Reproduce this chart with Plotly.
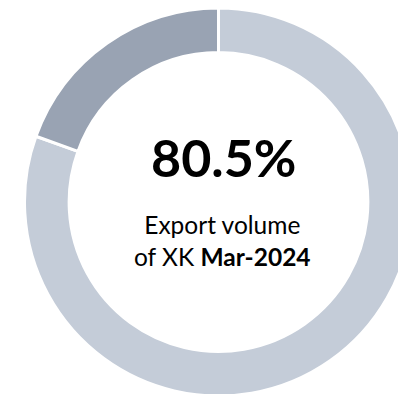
import plotly.graph_objects as go

labels = ["Export volume", "Other"]
values = [80.5, 19.5]
colors = ["#C4CCD8", "#99A3B3"]
headline = "80.5%"
subtitle_1 = "Export volume"
subtitle_2 = "of XK"
period = "Mar-2024"

W, H = 437, 400
fig = go.Figure(go.Pie(
    labels=labels, values=values, hole=0.77, sort=False, direction="clockwise",
    rotation=0, marker=dict(colors=colors, line=dict(color="white", width=3)),
    textinfo="none", hoverinfo="label+percent",
    domain=dict(x=[0, 1], y=[1 - 396 / H, 1 - 8 / H]),
))
fig.add_annotation(x=223 / W, y=1 - 157 / H, xref="paper", yref="paper",
                   text=f"<b>{headline}</b>", showarrow=False,
                   font=dict(family="Lato", size=52, color="black"))
fig.add_annotation(x=222 / W, y=1 - 240 / H, xref="paper", yref="paper",
                   text=f"{subtitle_1}<br>{subtitle_2} <b>{period}</b>", showarrow=False,
                   font=dict(family="Lato", size=24.5, color="black"))
fig.update_layout(width=W, height=H, margin=dict(l=0, r=0, t=0, b=0),
                  showlegend=False, paper_bgcolor="white", plot_bgcolor="white")
fig.write_html("out.html", config={"displayModeBar": False},
               post_script="document.body.style.margin='0';document.body.style.overflow='hidden';document.documentElement.style.overflow='hidden';")
